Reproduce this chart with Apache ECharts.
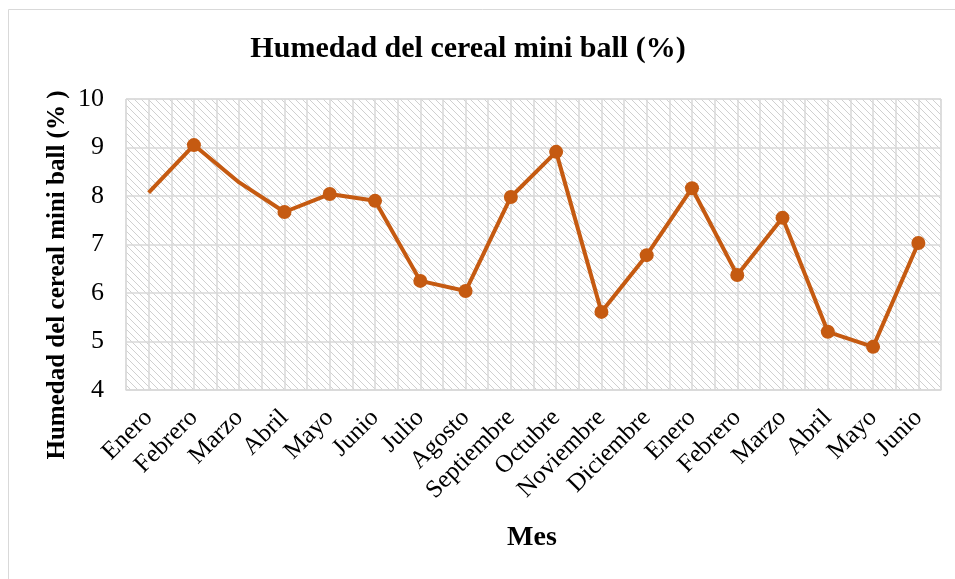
<!DOCTYPE html>
<html>
<head>
<meta charset="utf-8">
<script src="https://cdn.jsdelivr.net/npm/echarts@6/dist/echarts.min.js"></script>
<style>
  html, body { margin: 0; padding: 0; background: #fff; }
  #chart { width: 955px; height: 579px; }
</style>
</head>
<body>
<div id="chart"></div>
<script>
const months = ['Enero', 'Febrero', 'Marzo', 'Abril', 'Mayo', 'Junio', 'Julio', 'Agosto',
  'Septiembre', 'Octubre', 'Noviembre', 'Diciembre', 'Enero', 'Febrero', 'Marzo', 'Abril', 'Mayo', 'Junio']
const humedad = [8.07, 9.05, 8.28, 7.67, 8.04, 7.9, 6.25, 6.04, 7.98, 8.91, 5.61, 6.78, 8.16, 6.37, 7.55, 5.2, 4.89, 7.03]
// puntos sin marcador en el original
const sinMarcador = [0, 2]

const font = 'Liberation Serif'
const naranja = '#C55A11'
const gris = '#d9d9d9'

// trama diagonal del fondo
function hatch() {
  const c = document.createElement('canvas')
  c.width = 7
  c.height = 7
  const ctx = c.getContext('2d')
  ctx.fillStyle = '#fff'
  ctx.fillRect(0, 0, 7, 7)
  ctx.strokeStyle = '#d0d0d0'
  ctx.lineWidth = 1
  ctx.beginPath()
  ctx.moveTo(-1, -1); ctx.lineTo(8, 8)
  ctx.moveTo(-1, 6); ctx.lineTo(1, 8)
  ctx.moveTo(6, -1); ctx.lineTo(8, 1)
  ctx.stroke()
  return { image: c, repeat: 'repeat' }
}

const chart = echarts.init(document.getElementById('chart'), null, { renderer: 'canvas' })

chart.setOption({
  animation: false,
  backgroundColor: '#fff',
  grid: {
    left: 126, right: 14, top: 99, bottom: 189,
    show: true,
    backgroundColor: hatch(),
    borderColor: gris,
    borderWidth: 1
  },
  xAxis: [{
    type: 'category',
    data: months,
    boundaryGap: true,
    axisLine: { lineStyle: { color: gris, width: 1.5 } },
    axisTick: { show: false },
    splitLine: { show: false },
    axisLabel: {
      interval: 0, rotate: 45, margin: 24,
      fontFamily: font, fontSize: 25, color: '#000'
    }
  }, {
    // lineas verticales cada media categoria
    type: 'value',
    min: 0, max: 36, interval: 1,
    position: 'bottom',
    axisLine: { show: false },
    axisTick: { show: false },
    axisLabel: { show: false },
    splitLine: { show: true, lineStyle: { color: gris, width: 1.5 } }
  }],
  yAxis: {
    type: 'value',
    min: 4, max: 10, interval: 1,
    axisLine: { show: false },
    axisTick: { show: false },
    axisLabel: { margin: 22, fontFamily: font, fontSize: 26, color: '#000' },
    splitLine: { lineStyle: { color: gris, width: 1.5 } }
  },
  graphic: [{
    type: 'rect',
    shape: { x: 8.5, y: 9.5, width: 1000, height: 1000 },
    style: { fill: null, stroke: gris, lineWidth: 1 },
    silent: true
  }, {
    type: 'text',
    x: 468, y: 49,
    style: {
      text: 'Humedad del cereal mini ball (%)',
      fontFamily: font, fontWeight: 'bold', fontSize: 30, fill: '#000',
      align: 'center', verticalAlign: 'middle'
    }
  }, {
    type: 'text',
    x: 58, y: 275, rotation: Math.PI / 2,
    style: {
      text: 'Humedad del cereal mini ball (% )',
      fontFamily: font, fontWeight: 'bold', fontSize: 25, fill: '#000',
      align: 'center', verticalAlign: 'middle'
    }
  }, {
    type: 'text',
    x: 532, y: 538,
    style: {
      text: 'Mes',
      fontFamily: font, fontWeight: 'bold', fontSize: 28, fill: '#000',
      align: 'center', verticalAlign: 'middle'
    }
  }],
  series: [{
    type: 'line',
    xAxisIndex: 0,
    data: humedad.map((v, i) => sinMarcador.includes(i) ? { value: v, symbol: 'none' } : v),
    symbol: 'circle',
    symbolSize: 14,
    itemStyle: { color: naranja },
    lineStyle: { color: naranja, width: 4 }
  }]
})
</script>
</body>
</html>
